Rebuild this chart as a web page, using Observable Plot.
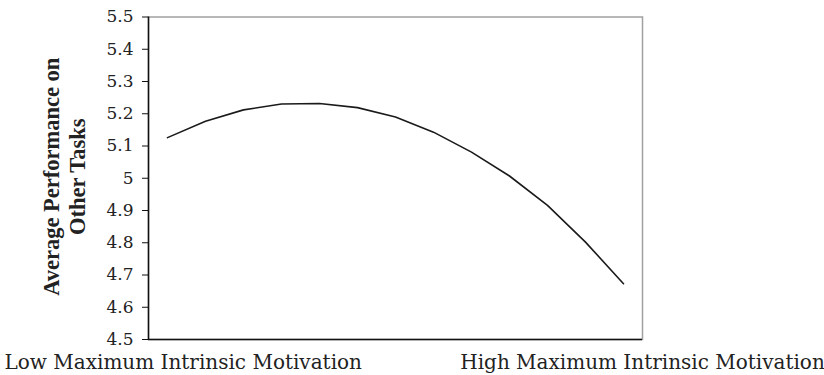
<!DOCTYPE html>
<html>
<head>
<meta charset="utf-8">
<script src="https://cdn.jsdelivr.net/npm/d3@7"></script>
<script src="https://cdn.jsdelivr.net/npm/@observablehq/plot@0.6"></script>
<style>
  html, body { margin: 0; padding: 0; background: #fff; }
  svg { display: block; }
</style>
</head>
<body>
<div id="chart"></div>
<script>
// Data
const steps = [1, 2, 3, 4, 5, 6, 7, 8, 9, 10, 11, 12, 13];
const performance = [5.126, 5.177, 5.212, 5.230, 5.232, 5.219, 5.190, 5.143, 5.081, 5.007, 4.916, 4.802, 4.673];
const yTicks = [4.5, 4.6, 4.7, 4.8, 4.9, 5.0, 5.1, 5.2, 5.3, 5.4, 5.5];
const xLabels = ["Low Maximum Intrinsic Motivation", "High Maximum Intrinsic Motivation"];
const yTitle = "Average Performance on\nOther Tasks";

const data = steps.map((s, i) => ({step: s, value: performance[i]}));
const font = "'DejaVu Serif', serif";

const chart = Plot.plot({
  width: 824,
  height: 375,
  marginLeft: 148,
  marginRight: 182,
  marginTop: 16.5,
  marginBottom: 36,
  style: {fontFamily: font, fontSize: "17px", color: "#222", background: "#fff"},
  x: {domain: [0.5, steps.length + 0.5], axis: null},
  y: {domain: [4.5, 5.5], axis: null},
  marks: [
    Plot.frame({stroke: "#a0a0a0", strokeWidth: 1.5}),
    Plot.ruleY([4.5], {stroke: "#111", strokeWidth: 1.5}),
    Plot.ruleX([0.5], {stroke: "#111", strokeWidth: 1.5}),
    Plot.axisY({
      ticks: yTicks,
      tickSize: 6,
      tickPadding: 9,
      tickFormat: d => (Math.abs(d - 5) < 1e-9 ? "5" : d.toFixed(1)),
      label: null,
      stroke: "#111",
      fill: "#222",
      fontSize: 17
    }),
    Plot.axisX({
      ticks: [0.5],
      tickSize: 0,
      tickPadding: 15,
      tickFormat: () => xLabels[0],
      textAnchor: "start",
      dx: -144,
      label: null,
      fill: "#222",
      fontSize: 20
    }),
    Plot.axisX({
      ticks: [steps.length + 0.5],
      tickSize: 0,
      tickPadding: 15,
      tickFormat: () => xLabels[1],
      textAnchor: "middle",
      label: null,
      fill: "#222",
      fontSize: 20
    }),
    Plot.text([yTitle], {
      frameAnchor: "left",
      textAnchor: "middle",
      rotate: -90,
      dx: -85,
      dy: -1.5,
      fontFamily: "'Liberation Serif', serif",
      fontWeight: "bold",
      fontSize: 22.5,
      lineHeight: 1.16,
      fill: "#222"
    }),
    Plot.line(data, {x: "step", y: "value", stroke: "#1a1a1a", strokeWidth: 1.6})
  ]
});
document.getElementById("chart").append(chart);
</script>
</body>
</html>
